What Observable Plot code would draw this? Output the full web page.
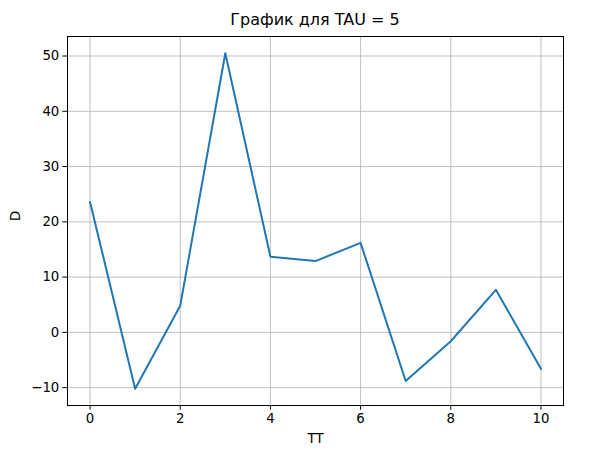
<!DOCTYPE html>
<html>
<head>
<meta charset="utf-8">
<script src="https://cdn.jsdelivr.net/npm/d3@7"></script>
<script src="https://cdn.jsdelivr.net/npm/@observablehq/plot@0.6"></script>
<style>
  body { margin: 0; background: #fff; }
  #title { height: 30px; width: 590px; position: relative; font-family: "DejaVu Sans", sans-serif; font-size: 16px; }
  #title span { position: absolute; left: 315px; top: 10px; transform: translateX(-50%); white-space: nowrap; }
</style>
</head>
<body>
<div id="title"><span>График для TAU = 5</span></div>
<div id="chart"></div>
<script>
const tt = [0, 1, 2, 3, 4, 5, 6, 7, 8, 9, 10];
const dVals = [23.6, -10.2, 4.8, 50.5, 13.7, 12.9, 16.2, -8.8, -1.6, 7.7, -6.6];
const xTicks = [0, 2, 4, 6, 8, 10];
const yTicks = [-10, 0, 10, 20, 30, 40, 50];
const data = tt.map((t, i) => ({tt: t, d: dVals[i]}));

const chart = Plot.plot({
  width: 590,
  height: 421,
  marginTop: 6,
  marginBottom: 46,
  marginLeft: 67,
  marginRight: 27,
  style: {fontFamily: "DejaVu Sans, sans-serif", fontSize: "13.3px", color: "#000", background: "#fff"},
  x: {domain: [-0.5, 10.5], ticks: xTicks, label: null},
  y: {domain: [-13.23, 53.53], ticks: yTicks, label: null},
  marks: [
    Plot.gridX(xTicks, {stroke: "#b0b0b0", strokeOpacity: 1, strokeWidth: 0.8}),
    Plot.gridY(yTicks, {stroke: "#b0b0b0", strokeOpacity: 1, strokeWidth: 0.8}),
    Plot.line(data, {x: "tt", y: "d", stroke: "#1f77b4", strokeWidth: 2}),
    Plot.axisX(xTicks, {tickSize: 4.7, tickPadding: 3.5, stroke: "#000", fill: "#000", fontSize: 13.3, label: null}),
    Plot.axisY(yTicks, {tickSize: 4.7, tickPadding: 3.5, stroke: "#000", fill: "#000", fontSize: 13.3, label: null, tickFormat: d => d < 0 ? "\u2212" + Math.abs(d) : String(d)}),
    Plot.frame({stroke: "#000", strokeWidth: 1}),
    Plot.text(["TT"], {frameAnchor: "bottom", dy: 37, fontSize: 13.3, fill: "#000"}),
    Plot.text(["D"], {frameAnchor: "left", dx: -52, rotate: -90, fontSize: 13.3, fill: "#000"})
  ]
});
document.getElementById("chart").appendChild(chart);
</script>
</body>
</html>
